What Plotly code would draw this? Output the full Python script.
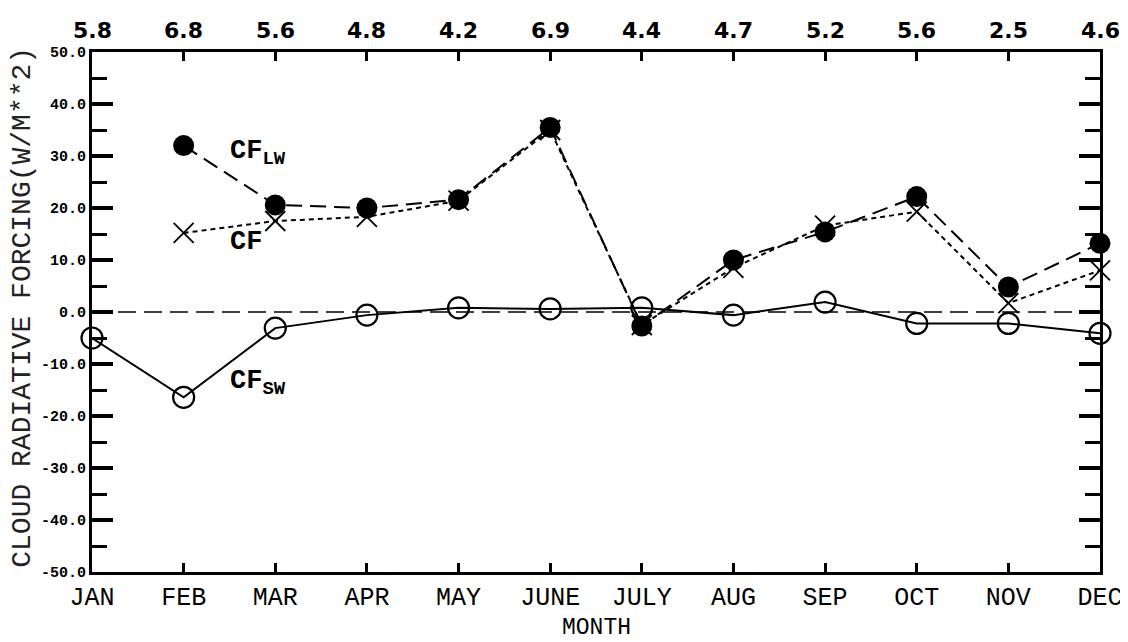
import plotly.graph_objects as go

months = ["JAN", "FEB", "MAR", "APR", "MAY", "JUNE", "JULY", "AUG", "SEP", "OCT", "NOV", "DEC"]
top_values = ["5.8", "6.8", "5.6", "4.8", "4.2", "6.9", "4.4", "4.7", "5.2", "5.6", "2.5", "4.6"]
cf_lw = [None, 32.0, 20.6, 20.0, 21.6, 35.5, -2.7, 10.0, 15.4, 22.2, 4.8, 13.2]
cf_net = [None, 15.2, 17.5, 18.3, 21.4, 35.0, -2.5, 8.5, 16.6, 19.3, 1.7, 8.0]
cf_sw = [-5.0, -16.4, -3.1, -0.6, 0.8, 0.6, 0.8, -0.6, 1.9, -2.2, -2.2, -4.1]
y_ticks = [-50, -40, -30, -20, -10, 0, 10, 20, 30, 40, 50]
y_ticktext = ["-50.0", "-40.0", "-30.0", "-20.0", "-10.0", "0.0", "10.0", "20.0", "30.0", "40.0", "50.0"]

x = list(range(len(months)))

fig = go.Figure()

fig.add_shape(type="line", xref="paper", yref="y", x0=0, x1=1, y0=0, y1=0,
              line=dict(color="black", width=1.5, dash="18px,8px"))

fig.add_trace(go.Scatter(
    x=x, y=cf_sw, mode="lines+markers", cliponaxis=False,
    line=dict(color="black", width=2),
    marker=dict(symbol="circle-open", size=21, color="black", line=dict(width=2.2)),
    showlegend=False))

fig.add_trace(go.Scatter(
    x=x, y=cf_net, mode="lines+markers", cliponaxis=False,
    line=dict(color="black", width=2, dash="5px,4px"),
    marker=dict(symbol="x-thin-open", size=20, color="black", line=dict(width=1.8, color="black")),
    showlegend=False))

fig.add_trace(go.Scatter(
    x=x, y=cf_lw, mode="lines+markers", cliponaxis=False,
    line=dict(color="black", width=2, dash="16px,8px"),
    marker=dict(symbol="circle", size=21, color="black"),
    showlegend=False))

# top numbers
for i, t in enumerate(top_values):
    fig.add_annotation(x=i, y=1, xref="x", yref="paper", text="<b>" + t + "</b>",
                       showarrow=False, xanchor="center", yanchor="middle", yshift=22,
                       font=dict(family="DejaVu Sans", size=22, color="black"))

label_font = dict(family="Liberation Mono", size=27, color="black")
fig.add_annotation(x=1.48, y=30.6, xref="x", yref="y", text="<b>CF<sub>LW</sub></b>",
                   showarrow=False, xanchor="left", yanchor="middle", font=label_font)
fig.add_annotation(x=1.48, y=13.5, xref="x", yref="y", text="<b>CF</b>",
                   showarrow=False, xanchor="left", yanchor="middle", font=label_font)
fig.add_annotation(x=1.48, y=-13.7, xref="x", yref="y", text="<b>CF<sub>SW</sub></b>",
                   showarrow=False, xanchor="left", yanchor="middle", font=label_font)

fig.add_annotation(x=0.5, y=-0.108, xref="paper", yref="paper", text="MONTH",
                   showarrow=False, xanchor="center", yanchor="middle",
                   font=dict(family="Liberation Mono", size=23, color="black"))
fig.add_annotation(x=-0.0685, y=0.51, xref="paper", yref="paper",
                   text="CLOUD RADIATIVE FORCING(W/M**2)", textangle=-90,
                   showarrow=False, xanchor="center", yanchor="middle",
                   font=dict(family="Liberation Mono", size=28, color="#222"))

fig.update_layout(
    width=1120, height=634,
    margin=dict(l=84, r=28, t=44, b=70),
    plot_bgcolor="white", paper_bgcolor="white",
    xaxis=dict(range=[0, 11], tickvals=x, ticktext=months, showgrid=False, zeroline=False,
               automargin=False,
               showline=True, linewidth=3, linecolor="black", mirror="allticks",
               ticks="inside", ticklen=9, tickwidth=2.5, tickcolor="black",
               tickfont=dict(family="Liberation Mono", size=25, color="black")),
    yaxis=dict(range=[-50, 50], tickvals=y_ticks, ticktext=y_ticktext, showgrid=False, zeroline=False,
               automargin=False,
               showline=True, linewidth=3, linecolor="black", mirror="allticks",
               ticks="inside", ticklen=21, tickwidth=3.5, tickcolor="black",
               minor=dict(ticks="inside", ticklen=15, tickwidth=2.5, dtick=5, tickcolor="black", showgrid=False),
               tickfont=dict(family="Liberation Mono", size=15, color="black", weight="bold")),
)

fig.write_html("out.html")
